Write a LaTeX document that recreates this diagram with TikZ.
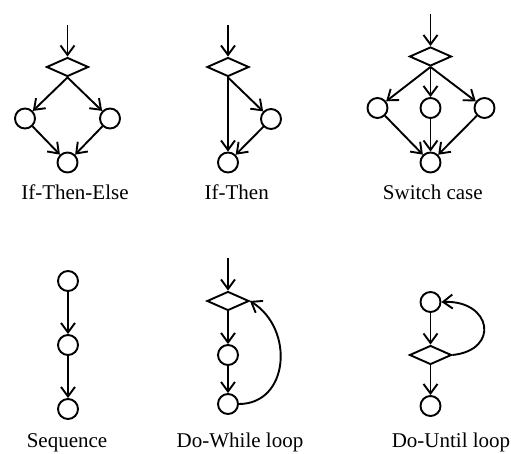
\documentclass[tikz,border=0pt]{standalone}
\usepackage{fontspec}
\setmainfont{Liberation Serif}
\usetikzlibrary{arrows.meta,positioning,shapes.geometric}
\tikzset{
  kor/.style={circle,draw,line width=1.9pt,minimum size=20pt,inner sep=0pt},
  dont/.style={diamond,draw,line width=1.9pt,minimum width=42pt,minimum height=19pt,inner sep=0pt},
  ny/.style={line width=1.9pt,-{Straight Barb[length=9.5pt,width=14pt]}},
  cim/.style={anchor=base,inner sep=0pt,font=\fontsize{21}{25}\selectfont},
}

\begin{document}
\begin{tikzpicture}[x=1pt,y=-1pt,on grid]
  \useasboundingbox (0,0) rectangle (511,454);
  % if-then-else
  \node[dont] (d1) at (67.5,67) {};
  \coordinate[above=42pt of d1] (in1);
  \node[kor] (l1) [below left=51.5pt and 42.5pt of d1] {};
  \node[kor] (r1) [below right=51.5pt and 42.5pt of d1] {};
  \node[kor] (b1) [below=95.5pt of d1] {};
  \draw[ny] (in1) -- (d1.north);
  \draw[ny] (d1.south) -- (l1);
  \draw[ny] (d1.south) -- (r1);
  \draw[ny] (l1) -- (b1);
  \draw[ny] (r1) -- (b1);
  \node[cim] (t1) at (75,200) {If-Then-Else};
  % if-then
  \node[dont] (d2) at (228,67) {};
  \coordinate[above=42pt of d2] (in2);
  \node[kor] (r2) [below right=52pt and 43pt of d2] {};
  \node[kor] (b2) [below=95.5pt of d2] {};
  \draw[ny] (in2) -- (d2.north);
  \draw[ny] (d2.south) -- (b2);
  \draw[ny] (d2.south) -- (r2);
  \draw[ny] (r2) -- (b2);
  \node[cim] (t2) at (236.7,200) {If-Then};
  % switch
  \node[dont] (d3) at (430.5,56.5) {};
  \coordinate[above=42.5pt of d3] (in3);
  \node[kor] (c31) [below left=51.5pt and 53pt of d3] {};
  \node[kor] (c32) [below=51.5pt of d3] {};
  \node[kor] (c33) [below right=51.5pt and 54pt of d3] {};
  \node[kor] (b3) [below=106pt of d3] {};
  \draw[ny] (in3) -- (d3.north);
  \foreach \c in {c31,c32,c33} {
    \draw[ny] (d3.south) -- (\c);
    \draw[ny] (\c) -- (b3);
  }
  \node[cim] (t3) at (432.8,200) {Switch case};
  % sequence
  \node[kor] (s1) at (68,281) {};
  \node[kor] (s2) [below=64pt of s1] {};
  \node[kor] (s3) [below=64pt of s2] {};
  \draw[ny] (s1) -- (s2);
  \draw[ny] (s2) -- (s3);
  \node[cim] (t4) at (67,447) {Sequence};
  % do-while
  \node[dont] (d5) at (228,301) {};
  \coordinate[above=43pt of d5] (in5);
  \node[kor] (w1) [below=54pt of d5] {};
  \node[kor] (w2) [below=49pt of w1] {};
  \draw[ny] (in5) -- (d5.north);
  \draw[ny] (d5.south) -- (w1);
  \draw[ny] (w1) -- (w2);
  \draw[ny] (w2.east) .. controls +(50,0) and +(45,28) .. (d5.east);
  \node[cim] (t5) at (240,447) {Do-While loop};
  % do-until
  \node[kor] (u1) at (430.5,302) {};
  \node[dont] (d6) [below=53pt of u1] {};
  \node[kor] (u2) [below=51pt of d6] {};
  \draw[ny] (u1) -- (d6.north);
  \draw[ny] (d6.south) -- (u2);
  \draw[ny] (d6.east) .. controls +(48,-5) and +(50,-2) .. (u1.east);
  \node[cim] (t6) at (451,447) {Do-Until loop};
\end{tikzpicture}
\end{document}
